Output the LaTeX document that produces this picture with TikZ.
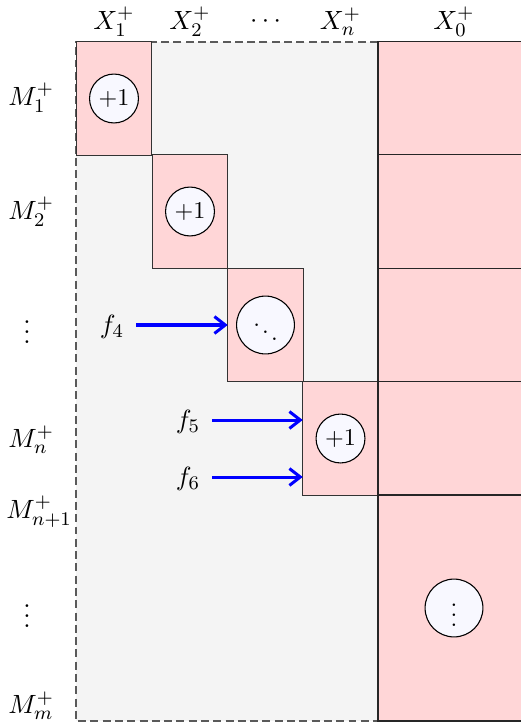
\documentclass[tikz,border=0pt]{standalone}
\usetikzlibrary{arrows.meta}
\definecolor{pinkfill}{HTML}{FFD6D7}
\definecolor{grayfill}{HTML}{F4F4F4}
\definecolor{circfill}{HTML}{F8F8FF}
\definecolor{dashgray}{HTML}{5A5A5A}
\tikzset{
  blk/.style={draw=black!80, fill=pinkfill, line width=0.45pt, rectangle, inner sep=0pt, outer sep=0pt,
    minimum width=31.35pt, minimum height=47.0pt},
  colcell/.style={draw=black!85, fill=pinkfill, line width=0.45pt, rectangle, inner sep=0pt, outer sep=0pt,
    minimum width=63.1pt},
  circ/.style={circle, draw=black, fill=circfill, line width=0.45pt, inner sep=0pt, minimum size=20.3pt, font=\normalsize},
  bigcirc/.style={circ, minimum size=24pt},
  farrow/.style={blue, line width=1.25pt, -{Straight Barb[length=4.5pt,width=7pt,line width=1.25pt]}},
  lbl/.style={inner sep=1pt},
  rowlbl/.style={inner sep=0pt, anchor=west},
}
\begin{document}
\begin{tikzpicture}[x=0.415pt,y=-0.415pt,font=\fontsize{10.95}{13}\selectfont]
\useasboundingbox (0,0) rectangle (521,723);
\begin{scope}
\clip (0,0) rectangle (521,723);
% gray region
\fill[grayfill] (76,42) rectangle (378,721);
\draw[dashgray, dash pattern=on 3.3pt off 1.8pt, line width=0.5pt] (378,42) -- (76,42) -- (76,721) -- (378,721);
% diagonal blocks
\node[blk] (b1) at (114,98.5) {};
\node[blk] (b2) at (190,211.5) {};
\node[blk] (b3) at (265.5,325) {};
\node[blk] (b4) at (340.5,438.5) {};
% X0 column
\node[colcell, minimum height=47.0pt] (r1) at (454,98.5) {};
\node[colcell, minimum height=47.0pt] (r2) at (454,211.5) {};
\node[colcell, minimum height=47.0pt] (r3) at (454,325) {};
\node[colcell, minimum height=47.0pt] (r4) at (454,438.5) {};
\node[colcell, minimum height=93.8pt] (r5) at (454,608) {};
\end{scope}
% circles
\node[circ] (c1) at (b1) {$+1$};
\node[circ] (c2) at (b2) {$+1$};
\node[bigcirc] (c3) at (b3) {$\scriptstyle\ddots$};
\node[circ] (c4) at (b4) {$+1$};
\node[bigcirc] (c5) at (r5) {$\vdots$};
% column labels
\node[lbl] (x1) at (114,22) {$X_1^+$};
\node[lbl] (x2) at (190,22) {$X_2^+$};
\node[lbl] (xd) at (265.5,22) {$\cdots$};
\node[lbl] (xn) at (340.5,22) {$X_n^+$};
\node[lbl] (x0) at (454,22) {$X_0^+$};
% row labels
\node[rowlbl] (m1) at (8,98) {$M_1^+$};
\node[rowlbl] (m2) at (8,212) {$M_2^+$};
\node[lbl] (md1) at (27,325) {$\vdots$};
\node[rowlbl] (mn) at (8,440) {$M_n^+$};
\node[rowlbl] (mn1) at (6,512) {$M_{n+1}^+$};
\node[lbl] (md2) at (27,609) {$\vdots$};
\node[rowlbl] (mm) at (8,706) {$M_m^+$};
% f labels and arrows
\node[lbl] (f4) at (112,327) {$f_4$};
\node[lbl] (f5) at (188,422) {$f_5$};
\node[lbl] (f6) at (188,479) {$f_6$};
\coordinate (f4s) at (136,325);
\coordinate (f5s) at (212,420);
\coordinate (f6s) at (212,477);
\draw[farrow] (f4s) -- (f4s -| b3.west);
\draw[farrow] (f5s) -- (f5s -| b4.west);
\draw[farrow] (f6s) -- (f6s -| b4.west);
\end{tikzpicture}
\end{document}
